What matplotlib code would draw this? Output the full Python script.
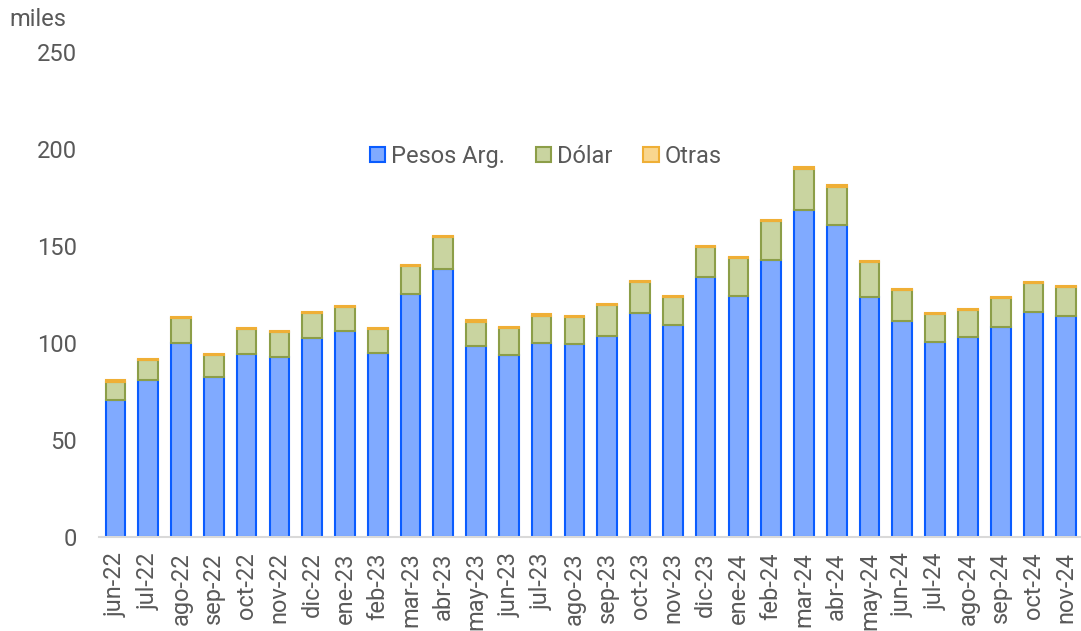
import numpy as np
import matplotlib.pyplot as plt

plt.rcParams['font.family'] = ['Roboto', 'DejaVu Sans']

meses = ["jun-22", "jul-22", "ago-22", "sep-22", "oct-22", "nov-22", "dic-22",
         "ene-23", "feb-23", "mar-23", "abr-23", "may-23", "jun-23", "jul-23",
         "ago-23", "sep-23", "oct-23", "nov-23", "dic-23", "ene-24", "feb-24",
         "mar-24", "abr-24", "may-24", "jun-24", "jul-24", "ago-24", "sep-24",
         "oct-24", "nov-24"]

pesos = [70.6, 81.0, 100.2, 82.5, 94.3, 92.8, 102.6, 106.0, 95.0, 125.0,
         138.3, 98.5, 94.0, 100.0, 99.5, 103.6, 115.5, 109.3, 134.2, 124.2,
         142.8, 168.6, 160.8, 123.9, 111.3, 100.7, 103.2, 108.4, 116.1, 113.9]
dolar = [9.4, 10.2, 12.6, 11.3, 12.8, 12.7, 12.6, 12.4, 12.0, 14.5,
         16.3, 12.5, 13.5, 14.0, 14.0, 15.8, 16.0, 14.3, 15.4, 19.4,
         20.1, 21.1, 19.8, 17.7, 16.0, 14.1, 13.7, 14.6, 14.7, 14.8]
otras = [0.8, 0.7, 0.8, 0.6, 0.6, 0.6, 0.7, 0.6, 0.6, 0.7,
         0.7, 0.6, 0.6, 0.7, 0.6, 0.6, 0.7, 0.6, 0.6, 0.6,
         0.6, 0.8, 0.7, 0.7, 0.7, 0.6, 0.6, 0.6, 0.6, 0.6]

gris = "#595959"
x = np.arange(len(meses))
pesos = np.array(pesos)
dolar = np.array(dolar)
otras = np.array(otras)

fig = plt.figure(figsize=(10.81, 6.31), dpi=100)
ax = fig.add_axes([0.0916, 0.149, 0.9084, 0.7686])

w = 0.6
ax.bar(x, pesos, w, color="#80AAFF", edgecolor="#0A5CFF", linewidth=1.5,
       label="Pesos Arg.")
ax.bar(x, dolar, w, bottom=pesos, color="#C9D4A0", edgecolor="#8C9E48",
       linewidth=1.5, label="Dólar")
ax.bar(x, otras, w, bottom=pesos + dolar, color="#F9D68E", edgecolor="#EFAF36",
       linewidth=1.5, label="Otras")

ax.set_xlim(-0.5, 29.45)
ax.set_ylim(0, 250)
ax.set_yticks([0, 50, 100, 150, 200, 250])
ax.set_xticks(x)
ax.set_xticklabels(meses, rotation=90)
ax.tick_params(axis="both", length=0, labelsize=17, labelcolor=gris)
ax.tick_params(axis="y", pad=16)
ax.tick_params(axis="x", pad=11)

for s in ["top", "right", "left"]:
    ax.spines[s].set_visible(False)
ax.spines["bottom"].set_color("#D9D9D9")
ax.spines["bottom"].set_linewidth(1.5)

# leyenda arriba al centro
leg = ax.legend(loc="center", bbox_to_anchor=(0.455, 0.785), ncol=3,
                frameon=False, fontsize=17, handlelength=0.65, handleheight=0.65,
                handletextpad=0.25, columnspacing=1.3)
for t in leg.get_texts():
    t.set_color(gris)

fig.text(0.009, 0.969, "miles", fontsize=17, color=gris, va="center")

fig.savefig("out.png", dpi=100)
